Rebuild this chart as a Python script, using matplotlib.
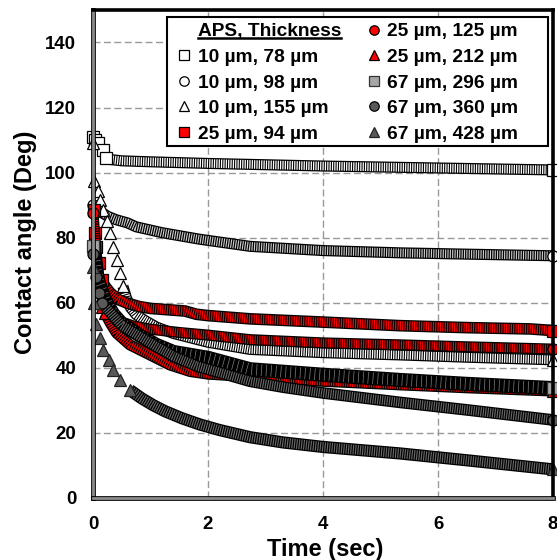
import numpy as np
import matplotlib
matplotlib.use('Agg')
import matplotlib.pyplot as plt
import matplotlib.patheffects as pe
from matplotlib.lines import Line2D
from matplotlib.patches import Rectangle

plt.rcParams['font.family'] = ['Liberation Sans', 'DejaVu Sans']
plt.rcParams['font.weight'] = 'bold'
plt.rcParams['lines.scale_dashes'] = False

# contact angle (deg) vs time (sec)
t_10_78 = [0, 0.04, 0.09, 0.17, 0.22, 0.3, 0.5, 1, 2, 3, 4, 5, 6, 7, 8]
ca_10_78 = [111, 110, 109, 107, 104.5, 104, 103.6, 103.3, 102.8, 102.4, 102, 101.7, 101.4, 101.1, 100.8]

t_10_98 = [0, 0.05, 0.1, 0.17, 0.26, 0.4, 0.6, 0.75, 1.2, 1.85, 2.73, 4, 5.34, 6.5, 8]
ca_10_98 = [90, 89, 88.3, 87.5, 86.5, 85.5, 84.5, 83.3, 81.5, 79.5, 77.3, 76, 75.3, 74.9, 74.4]

t_10_155 = [0, 0.02, 0.08, 0.12, 0.18, 0.24, 0.3, 0.35, 0.41, 0.47, 0.52, 0.58, 0.65, 0.75,
            0.9, 1.1, 1.4, 2, 2.73, 4, 5.34, 6.5, 8]
ca_10_155 = [109, 97.5, 94.2, 91.6, 88.5, 85, 81.4, 77.2, 73.1, 69, 65, 61.5, 58.5, 56.3,
             54.5, 52.5, 50.5, 47.8, 45.6, 44.6, 43.9, 43.2, 42.4]

t_25_94 = [0.02, 0.03, 0.06, 0.1, 0.15, 0.21, 0.3, 0.43, 0.6, 0.8, 1, 1.6, 1.8, 2, 2.73,
           4, 5.34, 6.5, 7.6, 8]
ca_25_94 = [88.5, 81.4, 77.2, 72.2, 66.8, 65, 63, 61, 59.8, 58.8, 58.2, 57.4, 56.4, 56, 55,
            54, 52.9, 52.3, 51.9, 51.4]

t_25_125 = [0, 0.05, 0.1, 0.2, 0.35, 0.5, 0.7, 1, 1.5, 2, 2.73, 4, 5.34, 6.5, 8]
ca_25_125 = [87.5, 76, 68, 61, 56.5, 54, 52.8, 51.8, 50.8, 50, 48.6, 47.6, 47, 46.4, 45.7]

t_25_212 = [0.12, 0.16, 0.21, 0.3, 0.41, 0.64, 0.99, 1.34, 1.69, 2, 2.73, 4, 5.34, 6.5, 8]
ca_25_212 = [60, 58.5, 56.7, 53.7, 50.6, 47, 43.9, 40.8, 38.8, 38, 37.2, 35.8, 34.7, 33.8, 32.8]

t_67_296 = [0, 0.05, 0.1, 0.2, 0.35, 0.5, 0.8, 1.1, 1.4, 2, 2.73, 4, 5.34, 6.5, 8]
ca_67_296 = [77.3, 70, 66, 61, 56.5, 53.5, 50, 47, 44.8, 43, 39.5, 37.8, 36.2, 35, 33.7]

t_67_360 = [0, 0.05, 0.1, 0.15, 0.3, 0.5, 0.82, 1.1, 1.4, 1.8, 2.2, 2.73, 3.3, 4, 5.34, 6.5, 8]
ca_67_360 = [75, 68, 63, 60, 57, 53, 49.5, 46.5, 43.5, 40.5, 38.5, 35.8, 34, 32.2, 29.3, 27, 23.9]

t_67_428 = [0, 0.02, 0.05, 0.12, 0.18, 0.27, 0.35, 0.47, 0.64, 0.85, 1.05, 1.25, 1.55, 1.86,
            2.2, 2.73, 3.3, 4, 5.34, 6.5, 8]
ca_67_428 = [71, 60, 53.5, 49, 45.4, 42.4, 39.3, 36.2, 33.1, 30.5, 28.4, 26.6, 24.4, 22.5,
             20.8, 18.6, 17, 15.6, 13.6, 11.5, 8.7]

labels = ['10 µm, 78 µm', '10 µm, 98 µm', '10 µm, 155 µm', '25 µm, 94 µm', '25 µm, 125 µm',
          '25 µm, 212 µm', '67 µm, 296 µm', '67 µm, 360 µm', '67 µm, 428 µm']
times = [t_10_78, t_10_98, t_10_155, t_25_94, t_25_125, t_25_212, t_67_296, t_67_360, t_67_428]
angles = [ca_10_78, ca_10_98, ca_10_155, ca_25_94, ca_25_125, ca_25_212, ca_67_296, ca_67_360, ca_67_428]

# marker, face, edge, stripe colour for the dense band, stripe dashes, band width,
# last t drawn as single markers
styles = [
    ('s', 'white', 'black', 'white', (0.9, 0.8), 6.8, 0.22),
    ('o', 'white', 'black', '#d0d0d0', (0.8, 0.9), 6.8, 0.1),
    ('^', 'white', 'black', 'white', (0.9, 0.8), 6.8, 0.52),
    ('s', 'red', 'black', 'red', (0.9, 0.8), 7.2, 0.15),
    ('o', 'red', 'black', 'red', (0.8, 0.9), 6.8, 0.0),
    ('^', 'red', 'black', 'red', (0.9, 0.8), 6.8, 0.21),
    ('s', '#a6a6a6', '#333333', '#7f7f7f', (0.5, 3.0), 9.0, 0.0),
    ('o', '#595959', 'black', '#6a6a6a', (0.8, 0.9), 7.2, 0.15),
    ('^', '#595959', '#222222', '#6a6a6a', (0.8, 0.9), 7.6, 0.64),
]

ms = 8.0

fig = plt.figure(figsize=(5.57, 5.6), dpi=100)
ax = fig.add_axes([0.167, 0.1113, 0.8259, 0.8709])

for i, (t, v, st) in enumerate(zip(times, angles, styles)):
    mk, fc, ec, stripe, dash, bw, mark_until = st
    t = np.array(t)
    v = np.array(v)
    early = t <= mark_until
    i0 = max(int(early.sum()) - 1, 0)
    z = 3 + i
    # dense overlapping markers -> black band with face-coloured stripes
    ax.plot(t[i0:], v[i0:], color='black', lw=bw + 1.2, solid_capstyle='butt',
            solid_joinstyle='round', zorder=z)
    ax.plot(t[i0:], v[i0:], color=stripe, lw=bw - 0.6, dashes=dash,
            dash_capstyle='butt', zorder=z)
    ax.plot(t[early], v[early], ls='none', marker=mk, ms=ms, mfc=fc, mec=ec, mew=0.9,
            zorder=z + 0.5, clip_on=False)
    ax.plot(t[-1:], v[-1:], ls='none', marker=mk, ms=ms, mfc=fc, mec=ec, mew=0.9,
            zorder=z + 0.5, clip_on=False)

ax.set_xlim(0, 8)
ax.set_ylim(0, 150)
ax.set_xticks([0, 2, 4, 6, 8])
ax.set_yticks(np.arange(0, 141, 20))
ax.tick_params(length=0, labelsize=13.4)
ax.tick_params(axis='x', pad=13.5)
ax.tick_params(axis='y', pad=12)
for lab in ax.get_xticklabels() + ax.get_yticklabels():
    lab.set_fontweight('bold')
ax.grid(True, color='#999999', lw=1.0, dashes=(5, 2.5), zorder=1)
ax.set_axisbelow(True)

ax.set_xlabel('Time (sec)', fontsize=17, fontweight='bold')
ax.set_ylabel('Contact angle (Deg)', fontsize=17, fontweight='bold')
ax.xaxis.set_label_coords(0.504, -0.0826)
ax.yaxis.set_label_coords(-0.1217, 0.523)

for side in ['left', 'bottom']:
    ax.spines[side].set_color('#8c8c8c')
    ax.spines[side].set_linewidth(2.0)
    ax.spines[side].set_path_effects([pe.Stroke(linewidth=3.4, foreground='black'), pe.Normal()])
    ax.spines[side].set_zorder(20)
for side in ['top', 'right']:
    ax.spines[side].set_color('black')
    ax.spines[side].set_linewidth(2.6)
    ax.spines[side].set_zorder(20)

# legend box, then legend entries: header without a symbol, then the nine series
box = Rectangle((0.1609, 0.7211), 0.9891 - 0.1609, 0.9857 - 0.7211, transform=ax.transAxes,
                facecolor='white', edgecolor='black', lw=1.5, zorder=29, clip_on=False)
ax.add_patch(box)

handles = [Line2D([], [], ls='none')]
for st in styles:
    mk, fc, ec = st[0], st[1], st[2]
    handles.append(Line2D([], [], ls='none', marker=mk, ms=6.8, mfc=fc, mec=ec, mew=0.9))
leg = ax.legend(handles, ['APS, Thickness'] + labels, ncol=2, loc='upper left',
                bbox_to_anchor=(0.1857, 0.9737), borderaxespad=0, borderpad=0,
                prop={'weight': 'bold', 'size': 13.8}, frameon=False,
                handlelength=0.6, handletextpad=0.4, columnspacing=1.42, labelspacing=0.43)
leg.set_zorder(30)

fig.canvas.draw()
bb = leg.get_texts()[0].get_window_extent()
inv = fig.transFigure.inverted()
(x0, y0), (x1, _) = inv.transform([(bb.x0, bb.y0 + 2.5), (bb.x1, bb.y0 + 2.5)])
fig.add_artist(Line2D([x0, x1], [y0, y0], color='black', lw=1.8, zorder=40))

fig.savefig('out.png', dpi=100)
